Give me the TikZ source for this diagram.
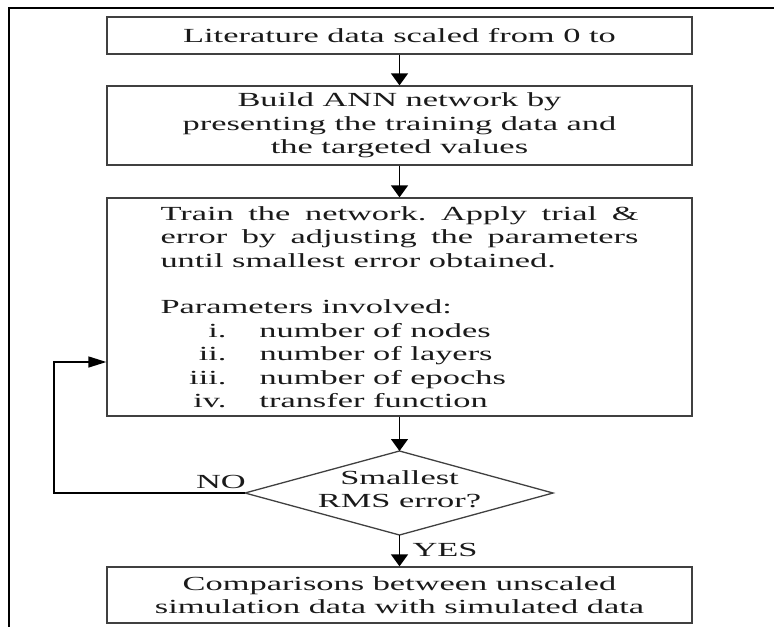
\documentclass[tikz,border=0pt]{standalone}
\usepackage{fontspec}
\setmainfont[FakeStretch=1.72]{Liberation Serif}
\usetikzlibrary{arrows.meta}
\definecolor{edge}{HTML}{404040}
\definecolor{txt}{HTML}{1A1A1A}
\newcommand\itemlbl[1]{\makebox[66pt][r]{#1}\hspace{33pt}}
\frenchspacing
\begin{document}
\begin{tikzpicture}[x=1pt,y=-1pt,
  every node/.style={font=\fontsize{20pt}{23.4pt}\selectfont, text=txt},
  box/.style={draw=edge, line width=1.3pt, minimum width=585pt, inner sep=0pt, align=center},
  varr/.style={line width=1.4pt, draw=black, -{Triangle[width=17pt,length=12pt]}},
  harr/.style={line width=1.4pt, draw=black, -{Triangle[width=11pt,length=18pt]}},
  framel/.style={line width=1.5pt, draw=black}]
\useasboundingbox (0,0) rectangle (774,627);
\draw[framel] (774,8) -- (9,8) -- (9,627);

\node[box, minimum height=37pt] (lit) at (399.5,35.5) {Literature data scaled from 0 to};
\node[box, minimum height=79pt] (build) at (399.5,125.5) {Build ANN network by\\presenting the training data and\\the targeted values};
\node[box, minimum height=218pt, text width=478pt, inner xsep=53.5pt, align=justify] (train) at (399.5,307)
 {Train the network. Apply trial \&\linebreak
  error by adjusting the parameters\linebreak
  until smallest error obtained.\par
  \vspace{\baselineskip}
  Parameters involved:\\
  \itemlbl{i.}number of nodes\\
  \itemlbl{ii.}number of layers\\
  \itemlbl{iii.}number of epochs\\
  \itemlbl{iv.}transfer function};

\coordinate (dT) at (399.5,451);
\coordinate (dR) at (553,493);
\coordinate (dB) at (399.5,535);
\coordinate (dL) at (245,493);
\draw[edge, line width=1.3pt] (dT) -- (dR) -- (dB) -- (dL) -- cycle;
\node[align=center, inner sep=0pt] (dec) at (399.5,489) {Smallest\\RMS error?};

\node[box, minimum height=56pt] (final) at (399.5,595) {Comparisons between unscaled\\simulation data with simulated data};

\draw[varr] (lit) -- (build);
\draw[varr] (build) -- (train);
\draw[varr] (train) -- (dT);
\draw[varr] (dB) -- (final);

\coordinate (fb1) at (54,493);
\coordinate (fb2) at (54,362);
\draw[harr] (dL) -- (fb1) -- (fb2) -- (fb2 -| train.west);

\node (no) at (221,482) {NO};
\node (yes) at (445,550) {YES};
\end{tikzpicture}
\end{document}
